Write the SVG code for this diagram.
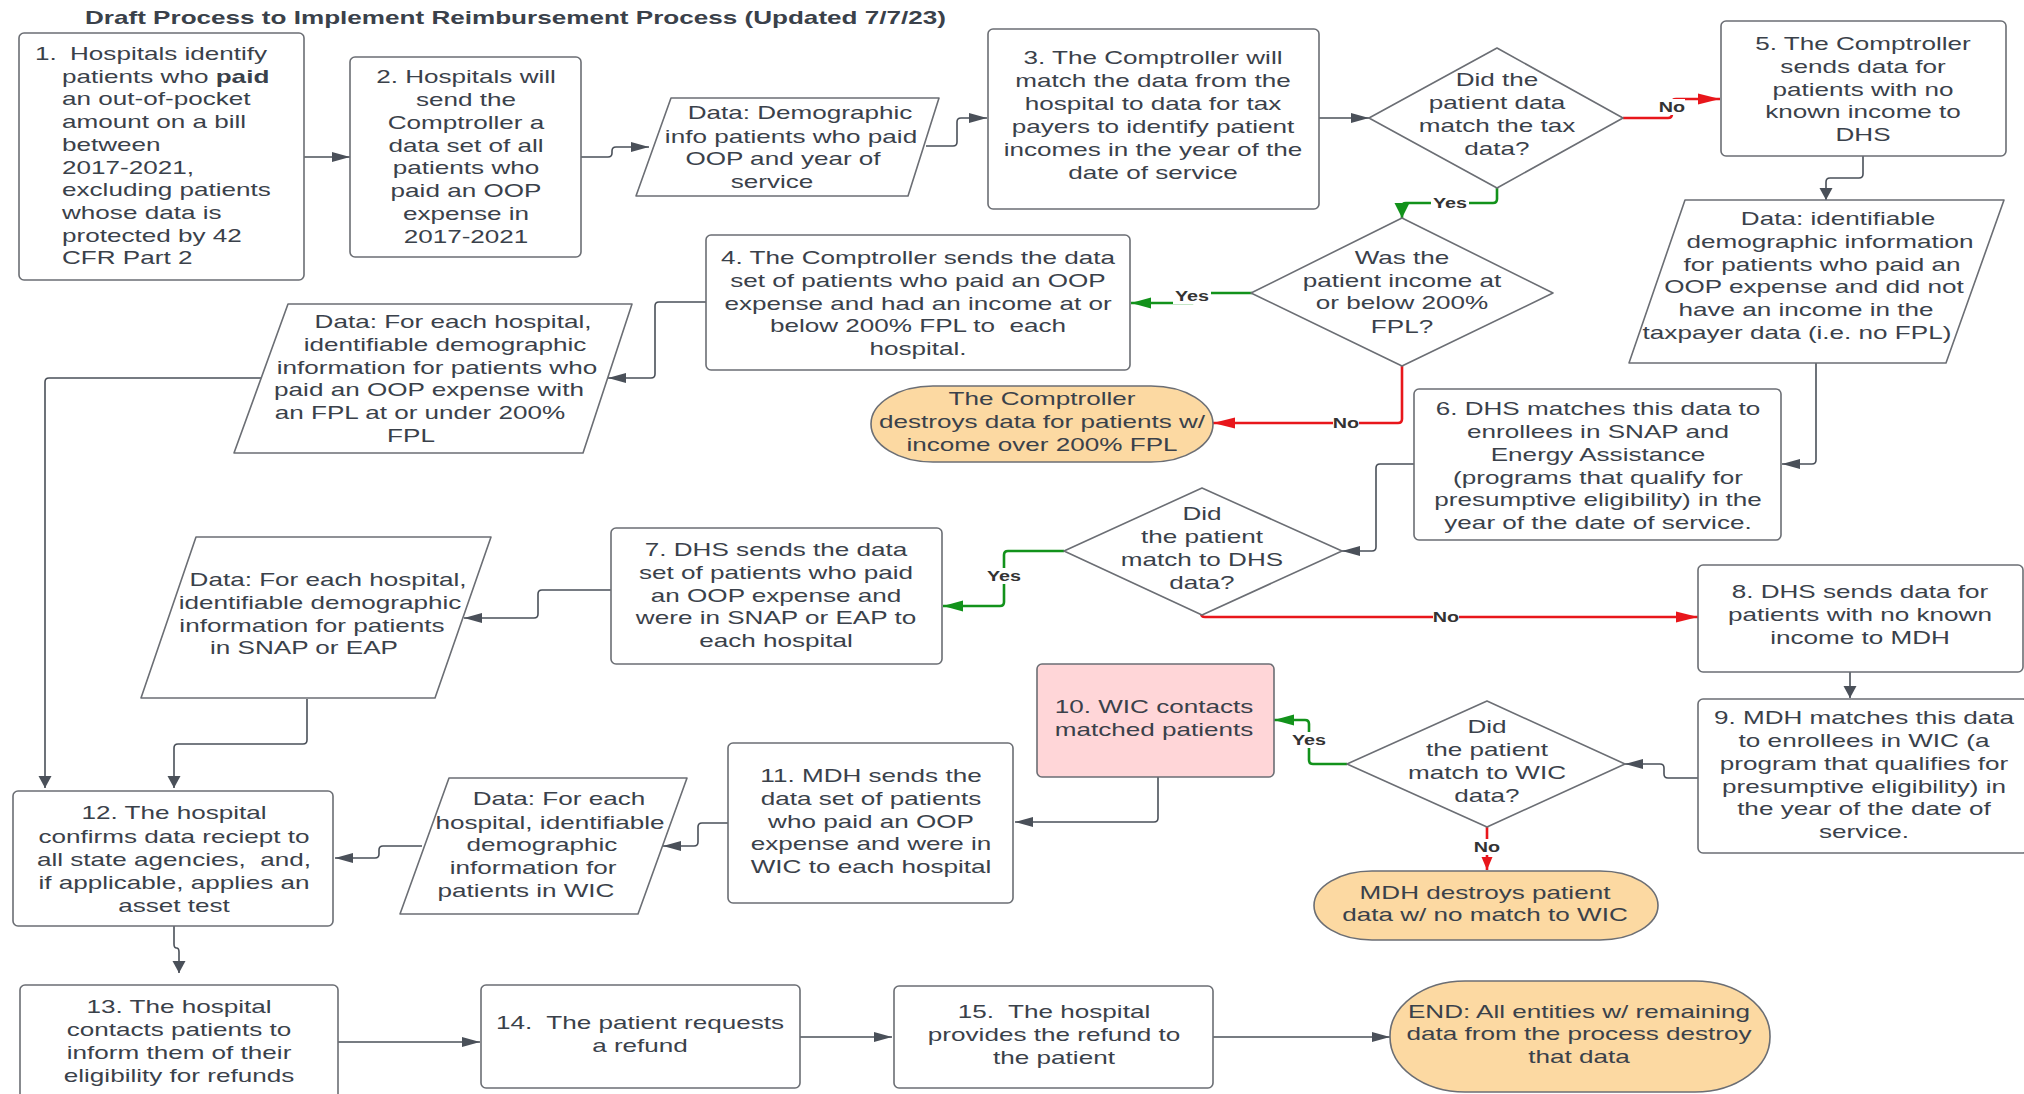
<svg xmlns="http://www.w3.org/2000/svg" width="2024" height="1094" viewBox="0 0 2024 1094">
<style>
.bg{fill:#fff}
.n{fill:#fff;stroke:#6b6e74;stroke-width:1.6;stroke-linejoin:round}
.o{fill:#fcd9a2;stroke:#6b6e74;stroke-width:1.6}
.p{fill:#ffd6d8;stroke:#6b6e74;stroke-width:1.6}
.t{font-family:"Liberation Sans",Arial,sans-serif;font-size:18.5px;fill:#3a414a;text-anchor:middle;white-space:pre}
.s{text-anchor:start}
.h{font-weight:bold}
.c{fill:none;stroke:#4a5059;stroke-width:1.6}
.g{fill:none;stroke:#12921b;stroke-width:2.6}
.r{fill:none;stroke:#e8161b;stroke-width:2.6}
.lb{font-family:"Liberation Sans",Arial,sans-serif;font-size:14px;font-weight:bold;fill:#333;text-anchor:middle}
.lbg{fill:#fff}
</style>
<defs>
<marker id="dh" markerUnits="userSpaceOnUse" markerWidth="18" markerHeight="10" refX="18" refY="5" orient="auto" overflow="visible"><path d="M0,0 L18,5 L0,10 z" fill="#4a5059"/></marker>
<marker id="dv" markerUnits="userSpaceOnUse" markerWidth="12" markerHeight="13" refX="12" refY="6.5" orient="auto" overflow="visible"><path d="M0,0 L12,6.5 L0,13 z" fill="#4a5059"/></marker>
<marker id="gh" markerUnits="userSpaceOnUse" markerWidth="20" markerHeight="11" refX="20" refY="5.5" orient="auto" overflow="visible"><path d="M0,0 L20,5.5 L0,11 z" fill="#12921b"/></marker>
<marker id="gv" markerUnits="userSpaceOnUse" markerWidth="15" markerHeight="15" refX="15" refY="7.5" orient="auto" overflow="visible"><path d="M0,0 L15,7.5 L0,15 z" fill="#12921b"/></marker>
<marker id="rh" markerUnits="userSpaceOnUse" markerWidth="22" markerHeight="11" refX="22" refY="5.5" orient="auto" overflow="visible"><path d="M0,0 L22,5.5 L0,11 z" fill="#e8161b"/></marker>
<marker id="rv" markerUnits="userSpaceOnUse" markerWidth="13" markerHeight="11" refX="13" refY="5.5" orient="auto" overflow="visible"><path d="M0,0 L13,5.5 L0,11 z" fill="#e8161b"/></marker>
</defs>
<rect class="bg" x="0" y="0" width="2024" height="1094"/>

<g id="title">
<text class="t s h" transform="translate(85 24) scale(1.41 1)">Draft Process to Implement Reimbursement Process (Updated 7/7/23)</text>
</g>

<g id="connectors">
<path class="c" d="M304,157 H350" marker-end="url(#dh)"/>
<path class="c" d="M581,157 H608 Q612,157 612,153 V151 Q612,147 616,147 H649" marker-end="url(#dh)"/>
<path class="c" d="M926,146 H953 Q957,146 957,142 V122 Q957,118 961,118 H987" marker-end="url(#dh)"/>
<path class="c" d="M1319,118 H1369" marker-end="url(#dh)"/>
<path class="r" d="M1623,118 H1668 Q1672,118 1672,114 V103 Q1672,99 1676,99 H1720" marker-end="url(#rh)"/>
<path class="c" d="M1863,156 V174 Q1863,178 1859,178 H1830 Q1826,178 1826,182 V200" marker-end="url(#dv)"/>
<path class="c" d="M1816,363 V460 Q1816,464 1812,464 H1782" marker-end="url(#dh)"/>
<path class="c" d="M1414,464 H1380 Q1376,464 1376,468 V547 Q1376,551 1372,551 H1342" marker-end="url(#dh)"/>
<path class="g" d="M1497,188 V199 Q1497,203 1493,203 H1406 Q1402,203 1402,207 V218" marker-end="url(#gv)"/>
<path class="g" d="M1252,293 H1192 V303 H1131" marker-end="url(#gh)"/>
<path class="r" d="M1402,366 V419 Q1402,423 1398,423 H1213" marker-end="url(#rh)"/>
<path class="c" d="M706,302 H659 Q655,302 655,306 V374 Q655,378 651,378 H608" marker-end="url(#dh)"/>
<path class="c" d="M261,378 H49 Q45,378 45,382 V788" marker-end="url(#dv)"/>
<path class="g" d="M1064,551 H1008 Q1004,551 1004,555 V602 Q1004,606 1000,606 H943" marker-end="url(#gh)"/>
<path class="r" d="M1201,613 Q1201,617 1205,617 H1698" marker-end="url(#rh)"/>
<path class="c" d="M611,590 H542 Q538,590 538,594 V614 Q538,618 534,618 H464" marker-end="url(#dh)"/>
<path class="c" d="M307,699 V740 Q307,744 303,744 H178 Q174,744 174,748 V788" marker-end="url(#dv)"/>
<path class="c" d="M1850,672 V698" marker-end="url(#dv)"/>
<path class="c" d="M1698,778 H1668 Q1664,778 1664,774 V768 Q1664,764 1660,764 H1625" marker-end="url(#dh)"/>
<path class="g" d="M1347,764 H1313 Q1309,764 1309,760 V724 Q1309,720 1305,720 H1274" marker-end="url(#gh)"/>
<path class="r" d="M1487,827 V870" marker-end="url(#rv)"/>
<path class="c" d="M1158,777 V818 Q1158,822 1154,822 H1015" marker-end="url(#dh)"/>
<path class="c" d="M728,823 H702 Q698,823 698,827 V842 Q698,846 694,846 H663" marker-end="url(#dh)"/>
<path class="c" d="M422,846 H383 Q379,846 379,850 V854 Q379,858 375,858 H335" marker-end="url(#dh)"/>
<path class="c" d="M174,926 V944 Q174,948 176.5,948 Q179,948 179,952 V973" marker-end="url(#dv)"/>
<path class="c" d="M338,1042 H480" marker-end="url(#dh)"/>
<path class="c" d="M800,1037 H892" marker-end="url(#dh)"/>
<path class="c" d="M1213,1037 H1390" marker-end="url(#dh)"/>
<g id="labels">
<rect class="lbg" x="1659" y="99" width="26" height="16"/><text class="lb" transform="translate(1672 112) scale(1.41 1)">No</text>
<rect class="lbg" x="1431" y="195" width="38" height="16"/><text class="lb" transform="translate(1450 208) scale(1.41 1)">Yes</text>
<rect class="lbg" x="1173" y="288" width="38" height="16"/><text class="lb" transform="translate(1192 301) scale(1.41 1)">Yes</text>
<rect class="lbg" x="1333" y="415" width="26" height="16"/><text class="lb" transform="translate(1346 428) scale(1.41 1)">No</text>
<rect class="lbg" x="985" y="568" width="38" height="16"/><text class="lb" transform="translate(1004 581) scale(1.41 1)">Yes</text>
<rect class="lbg" x="1433" y="609" width="26" height="16"/><text class="lb" transform="translate(1446 622) scale(1.41 1)">No</text>
<rect class="lbg" x="1290" y="732" width="38" height="16"/><text class="lb" transform="translate(1309 745) scale(1.41 1)">Yes</text>
<rect class="lbg" x="1474" y="839" width="26" height="16"/><text class="lb" transform="translate(1487 852) scale(1.41 1)">No</text>
</g>
</g>

<g id="n1">
<rect class="n" x="19" y="33" width="285" height="247" rx="5"/>
<text class="t s" transform="translate(35 60) scale(1.41 1)">1.</text>
<text class="t s" transform="translate(70 60) scale(1.41 1)">Hospitals identify</text>
<text class="t s" transform="translate(62 82.7) scale(1.41 1)">patients who <tspan class="h">paid</tspan></text>
<text class="t s" transform="translate(62 105.4) scale(1.41 1)">an out-of-pocket</text>
<text class="t s" transform="translate(62 128.1) scale(1.41 1)">amount on a bill</text>
<text class="t s" transform="translate(62 150.8) scale(1.41 1)">between</text>
<text class="t s" transform="translate(62 173.5) scale(1.41 1)">2017-2021,</text>
<text class="t s" transform="translate(62 196.2) scale(1.41 1)">excluding patients</text>
<text class="t s" transform="translate(62 218.9) scale(1.41 1)">whose data is</text>
<text class="t s" transform="translate(62 241.6) scale(1.41 1)">protected by 42</text>
<text class="t s" transform="translate(62 264.3) scale(1.41 1)">CFR Part 2</text>
</g>

<g id="n2">
<rect class="n" x="350" y="57" width="231" height="200" rx="5"/>
<text class="t" transform="translate(466 83) scale(1.41 1)">2. Hospitals will</text>
<text class="t" transform="translate(466 106) scale(1.41 1)">send the</text>
<text class="t" transform="translate(466 129) scale(1.41 1)">Comptroller a</text>
<text class="t" transform="translate(466 152) scale(1.41 1)">data set of all</text>
<text class="t" transform="translate(466 174) scale(1.41 1)">patients who</text>
<text class="t" transform="translate(466 197) scale(1.41 1)">paid an OOP</text>
<text class="t" transform="translate(466 220) scale(1.41 1)">expense in</text>
<text class="t" transform="translate(466 243) scale(1.41 1)">2017-2021</text>
</g>

<g id="d1">
<polygon class="n" points="671,98 939,98 908,196 636,196"/>
<text class="t" transform="translate(800 119) scale(1.41 1)">Data: Demographic</text>
<text class="t" transform="translate(791 143) scale(1.41 1)">info patients who paid</text>
<text class="t" transform="translate(783 165) scale(1.41 1)">OOP and year of</text>
<text class="t" transform="translate(772 188) scale(1.41 1)">service</text>
</g>

<g id="n3">
<rect class="n" x="988" y="29" width="331" height="180" rx="5"/>
<text class="t" transform="translate(1153 64) scale(1.41 1)">3. The Comptroller will</text>
<text class="t" transform="translate(1153 87) scale(1.41 1)">match the data from the</text>
<text class="t" transform="translate(1153 110) scale(1.41 1)">hospital to data for tax</text>
<text class="t" transform="translate(1153 133) scale(1.41 1)">payers to identify patient</text>
<text class="t" transform="translate(1153 156) scale(1.41 1)">incomes in the year of the</text>
<text class="t" transform="translate(1153 179) scale(1.41 1)">date of service</text>
</g>

<g id="q1">
<polygon class="n" points="1497,48 1623,118 1497,188 1369,118"/>
<text class="t" transform="translate(1497 86) scale(1.41 1)">Did the</text>
<text class="t" transform="translate(1497 109) scale(1.41 1)">patient data</text>
<text class="t" transform="translate(1497 132) scale(1.41 1)">match the tax</text>
<text class="t" transform="translate(1497 155) scale(1.41 1)">data?</text>
</g>

<g id="n5">
<rect class="n" x="1721" y="21" width="285" height="135" rx="5"/>
<text class="t" transform="translate(1863 50) scale(1.41 1)">5. The Comptroller</text>
<text class="t" transform="translate(1863 73) scale(1.41 1)">sends data for</text>
<text class="t" transform="translate(1863 96) scale(1.41 1)">patients with no</text>
<text class="t" transform="translate(1863 118) scale(1.41 1)">known income to</text>
<text class="t" transform="translate(1863 141) scale(1.41 1)">DHS</text>
</g>

<g id="d2">
<polygon class="n" points="1685,200 2004,200 1946,363 1629,363"/>
<text class="t" transform="translate(1838 225) scale(1.41 1)">Data: identifiable</text>
<text class="t" transform="translate(1830 248) scale(1.41 1)">demographic information</text>
<text class="t" transform="translate(1822 271) scale(1.41 1)">for patients who paid an</text>
<text class="t" transform="translate(1814 293) scale(1.41 1)">OOP expense and did not</text>
<text class="t" transform="translate(1806 316) scale(1.41 1)">have an income in the</text>
<text class="t" transform="translate(1797 339) scale(1.41 1)">taxpayer data (i.e. no FPL)</text>
</g>

<g id="q2">
<polygon class="n" points="1402,218 1553,293 1402,366 1251,293"/>
<text class="t" transform="translate(1402 264) scale(1.41 1)">Was the</text>
<text class="t" transform="translate(1402 287) scale(1.41 1)">patient income at</text>
<text class="t" transform="translate(1402 309) scale(1.41 1)">or below 200%</text>
<text class="t" transform="translate(1402 333) scale(1.41 1)">FPL?</text>
</g>

<g id="n4">
<rect class="n" x="706" y="235" width="424" height="135" rx="5"/>
<text class="t" transform="translate(918 264) scale(1.41 1)">4. The Comptroller sends the data</text>
<text class="t" transform="translate(918 287) scale(1.41 1)">set of patients who paid an OOP</text>
<text class="t" transform="translate(918 310) scale(1.41 1)">expense and had an income at or</text>
<text class="t" transform="translate(918 332) scale(1.41 1)">below 200% FPL to  each</text>
<text class="t" transform="translate(918 355) scale(1.41 1)">hospital.</text>
</g>

<g id="d3">
<polygon class="n" points="288,304 632,304 583,453 234,453"/>
<text class="t" transform="translate(453 328) scale(1.41 1)">Data: For each hospital,</text>
<text class="t" transform="translate(445 351) scale(1.41 1)">identifiable demographic</text>
<text class="t" transform="translate(437 374) scale(1.41 1)">information for patients who</text>
<text class="t" transform="translate(429 396) scale(1.41 1)">paid an OOP expense with</text>
<text class="t" transform="translate(420 419) scale(1.41 1)">an FPL at or under 200%</text>
<text class="t" transform="translate(411 442) scale(1.41 1)">FPL</text>
</g>

<g id="e1">
<rect class="o" x="871" y="386" width="342" height="76" rx="62" ry="38"/>
<text class="t" transform="translate(1042 405) scale(1.41 1)">The Comptroller</text>
<text class="t" transform="translate(1042 428) scale(1.41 1)">destroys data for patients w/</text>
<text class="t" transform="translate(1042 451) scale(1.41 1)">income over 200% FPL</text>
</g>

<g id="n6">
<rect class="n" x="1414" y="389" width="367" height="151" rx="5"/>
<text class="t" transform="translate(1598 415) scale(1.41 1)">6. DHS matches this data to</text>
<text class="t" transform="translate(1598 438) scale(1.41 1)">enrollees in SNAP and</text>
<text class="t" transform="translate(1598 461) scale(1.41 1)">Energy Assistance</text>
<text class="t" transform="translate(1598 484) scale(1.41 1)">(programs that qualify for</text>
<text class="t" transform="translate(1598 506) scale(1.41 1)">presumptive eligibility) in the</text>
<text class="t" transform="translate(1598 529) scale(1.41 1)">year of the date of service.</text>
</g>

<g id="q3">
<polygon class="n" points="1202,488 1342,551 1202,615 1064,551"/>
<text class="t" transform="translate(1202 520) scale(1.41 1)">Did</text>
<text class="t" transform="translate(1202 543) scale(1.41 1)">the patient</text>
<text class="t" transform="translate(1202 566) scale(1.41 1)">match to DHS</text>
<text class="t" transform="translate(1202 589) scale(1.41 1)">data?</text>
</g>

<g id="n7">
<rect class="n" x="611" y="528" width="331" height="136" rx="5"/>
<text class="t" transform="translate(776 556) scale(1.41 1)">7. DHS sends the data</text>
<text class="t" transform="translate(776 579) scale(1.41 1)">set of patients who paid</text>
<text class="t" transform="translate(776 602) scale(1.41 1)">an OOP expense and</text>
<text class="t" transform="translate(776 624) scale(1.41 1)">were in SNAP or EAP to</text>
<text class="t" transform="translate(776 647) scale(1.41 1)">each hospital</text>
</g>

<g id="d4">
<polygon class="n" points="196,537 491,537 435,698 141,698"/>
<text class="t" transform="translate(328 586) scale(1.41 1)">Data: For each hospital,</text>
<text class="t" transform="translate(320 609) scale(1.41 1)">identifiable demographic</text>
<text class="t" transform="translate(312 632) scale(1.41 1)">information for patients</text>
<text class="t" transform="translate(304 654) scale(1.41 1)">in SNAP or EAP</text>
</g>

<g id="n8">
<rect class="n" x="1698" y="565" width="325" height="107" rx="5"/>
<text class="t" transform="translate(1860 598) scale(1.41 1)">8. DHS sends data for</text>
<text class="t" transform="translate(1860 621) scale(1.41 1)">patients with no known</text>
<text class="t" transform="translate(1860 644) scale(1.41 1)">income to MDH</text>
</g>

<g id="n9">
<rect class="n" x="1698" y="699" width="330" height="154" rx="5"/>
<text class="t" transform="translate(1864 724) scale(1.41 1)">9. MDH matches this data</text>
<text class="t" transform="translate(1864 747) scale(1.41 1)">to enrollees in WIC (a</text>
<text class="t" transform="translate(1864 770) scale(1.41 1)">program that qualifies for</text>
<text class="t" transform="translate(1864 793) scale(1.41 1)">presumptive eligibility) in</text>
<text class="t" transform="translate(1864 815) scale(1.41 1)">the year of the date of</text>
<text class="t" transform="translate(1864 838) scale(1.41 1)">service.</text>
</g>

<g id="n10">
<rect class="p" x="1037" y="664" width="237" height="113" rx="5"/>
<text class="t" transform="translate(1154 713) scale(1.41 1)">10. WIC contacts</text>
<text class="t" transform="translate(1154 736) scale(1.41 1)">matched patients</text>
</g>

<g id="q4">
<polygon class="n" points="1487,701 1625,764 1487,827 1347,764"/>
<text class="t" transform="translate(1487 733) scale(1.41 1)">Did</text>
<text class="t" transform="translate(1487 756) scale(1.41 1)">the patient</text>
<text class="t" transform="translate(1487 779) scale(1.41 1)">match to WIC</text>
<text class="t" transform="translate(1487 802) scale(1.41 1)">data?</text>
</g>

<g id="e2">
<rect class="o" x="1314" y="871" width="344" height="69" rx="58" ry="34.5"/>
<text class="t" transform="translate(1485 899) scale(1.41 1)">MDH destroys patient</text>
<text class="t" transform="translate(1485 921) scale(1.41 1)">data w/ no match to WIC</text>
</g>

<g id="n11">
<rect class="n" x="728" y="743" width="285" height="160" rx="5"/>
<text class="t" transform="translate(871 782) scale(1.41 1)">11. MDH sends the</text>
<text class="t" transform="translate(871 805) scale(1.41 1)">data set of patients</text>
<text class="t" transform="translate(871 828) scale(1.41 1)">who paid an OOP</text>
<text class="t" transform="translate(871 850) scale(1.41 1)">expense and were in</text>
<text class="t" transform="translate(871 873) scale(1.41 1)">WIC to each hospital</text>
</g>

<g id="d5">
<polygon class="n" points="449,778 687,778 638,914 400,914"/>
<text class="t" transform="translate(559 805) scale(1.41 1)">Data: For each</text>
<text class="t" transform="translate(550 829) scale(1.41 1)">hospital, identifiable</text>
<text class="t" transform="translate(542 851) scale(1.41 1)">demographic</text>
<text class="t" transform="translate(533 874) scale(1.41 1)">information for</text>
<text class="t" transform="translate(526 897) scale(1.41 1)">patients in WIC</text>
</g>

<g id="n12">
<rect class="n" x="13" y="791" width="320" height="135" rx="5"/>
<text class="t" transform="translate(174 819) scale(1.41 1)">12. The hospital</text>
<text class="t" transform="translate(174 843) scale(1.41 1)">confirms data reciept to</text>
<text class="t" transform="translate(174 866) scale(1.41 1)">all state agencies,  and,</text>
<text class="t" transform="translate(174 889) scale(1.41 1)">if applicable, applies an</text>
<text class="t" transform="translate(174 912) scale(1.41 1)">asset test</text>
</g>

<g id="n13">
<rect class="n" x="20" y="985" width="318" height="120" rx="5"/>
<text class="t" transform="translate(179 1013) scale(1.41 1)">13. The hospital</text>
<text class="t" transform="translate(179 1036) scale(1.41 1)">contacts patients to</text>
<text class="t" transform="translate(179 1059) scale(1.41 1)">inform them of their</text>
<text class="t" transform="translate(179 1082) scale(1.41 1)">eligibility for refunds</text>
</g>

<g id="n14">
<rect class="n" x="481" y="985" width="319" height="103" rx="5"/>
<text class="t" transform="translate(640 1029) scale(1.41 1)">14.  The patient requests</text>
<text class="t" transform="translate(640 1052) scale(1.41 1)">a refund</text>
</g>

<g id="n15">
<rect class="n" x="894" y="986" width="319" height="102" rx="5"/>
<text class="t" transform="translate(1054 1018) scale(1.41 1)">15.  The hospital</text>
<text class="t" transform="translate(1054 1041) scale(1.41 1)">provides the refund to</text>
<text class="t" transform="translate(1054 1064) scale(1.41 1)">the patient</text>
</g>

<g id="end">
<rect class="o" x="1390" y="981" width="380" height="111" rx="75" ry="55"/>
<text class="t" transform="translate(1579 1018) scale(1.41 1)">END: All entities w/ remaining</text>
<text class="t" transform="translate(1579 1040) scale(1.41 1)">data from the process destroy</text>
<text class="t" transform="translate(1579 1063) scale(1.41 1)">that data</text>
</g>
</svg>
